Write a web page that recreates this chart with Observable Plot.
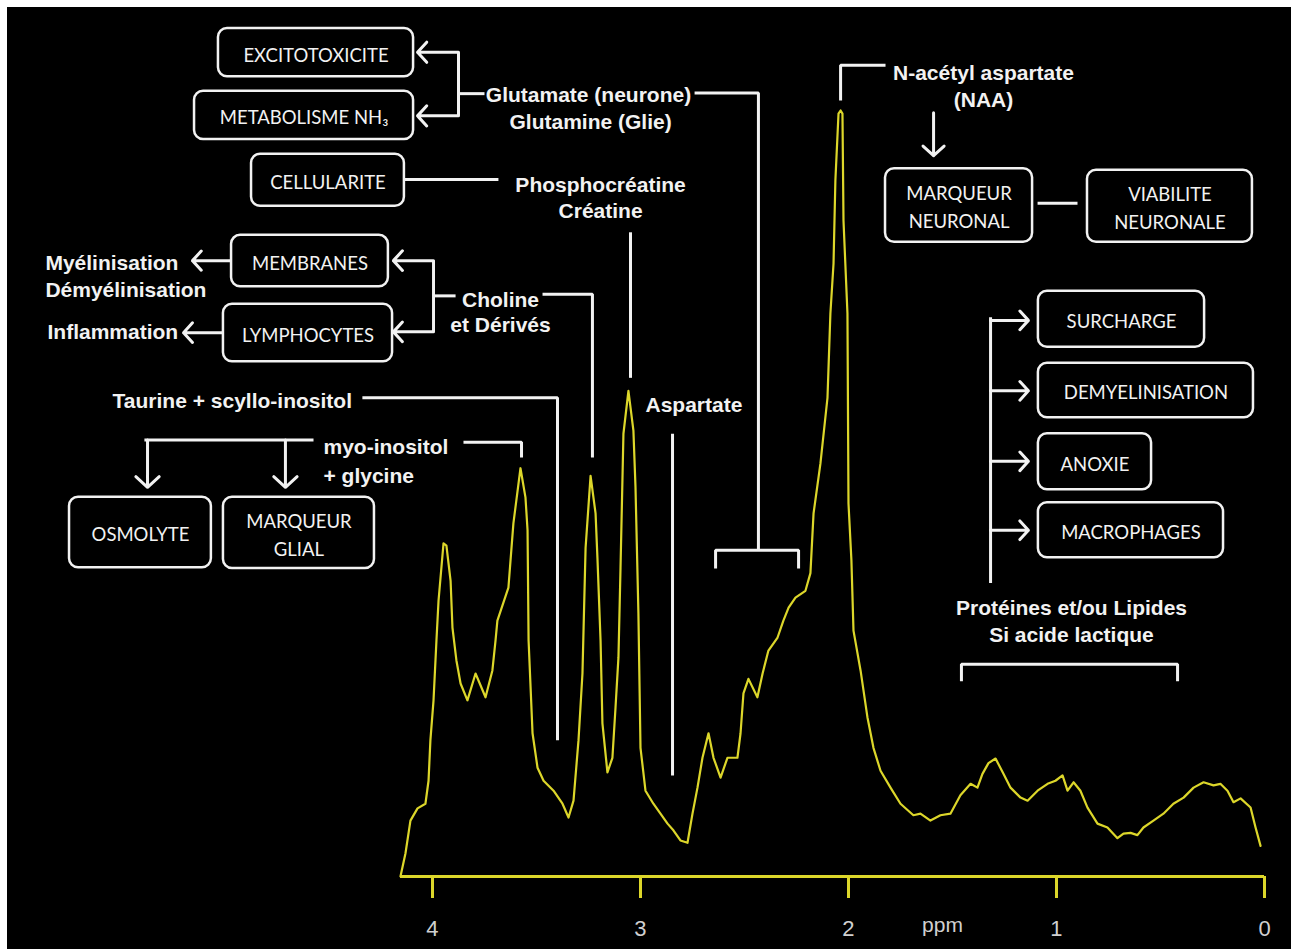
<!DOCTYPE html>
<html><head><meta charset="utf-8">
<script src="https://cdn.jsdelivr.net/npm/d3@7"></script>
<script src="https://cdn.jsdelivr.net/npm/@observablehq/plot@0.6"></script>
<style>
html,body{margin:0;padding:0;background:#fff;width:1291px;height:949px;overflow:hidden}
#chart{position:absolute;left:7px;top:7px;width:1284px;height:942px;background:#000}
#chart svg{display:block;background:#000;overflow:visible}
</style></head><body><div id="chart"></div>
<script>
// ---- spectrum (chemical shift in ppm, relative intensity, NAA = 100) ----
const ppm = [4.154,4.130,4.106,4.072,4.034,4.019,4.010,3.995,3.981,3.971,3.947,3.933,3.913,3.904,3.885,3.865,3.832,3.793,3.745,3.712,3.697,3.688,3.635,3.611,3.577,3.553,3.543,3.538,3.519,3.495,3.466,3.418,3.375,3.346,3.322,3.298,3.279,3.264,3.240,3.216,3.207,3.192,3.183,3.159,3.135,3.120,3.106,3.096,3.082,3.058,3.034,3.024,3.010,3.000,2.976,2.938,2.904,2.870,2.841,2.808,2.774,2.750,2.726,2.702,2.673,2.649,2.615,2.582,2.534,2.519,2.505,2.481,2.438,2.413,2.385,2.341,2.313,2.288,2.255,2.207,2.183,2.168,2.135,2.101,2.087,2.072,2.063,2.048,2.038,2.029,2.024,2.005,2.000,1.986,1.976,1.942,1.909,1.880,1.846,1.798,1.750,1.688,1.654,1.606,1.558,1.510,1.462,1.413,1.380,1.356,1.327,1.293,1.255,1.221,1.173,1.139,1.091,1.043,1.005,0.971,0.947,0.918,0.885,0.851,0.803,0.755,0.707,0.678,0.644,0.611,0.582,0.534,0.486,0.438,0.389,0.341,0.293,0.245,0.212,0.178,0.149,0.115,0.067,0.043,0.019];
const intensity = [0,3.0,7.3,8.9,9.5,12.5,17.8,23.0,30.8,36.0,43.5,43.2,38.6,32.5,28.2,25.2,23.0,26.5,23.4,26.9,30.8,33.4,37.7,46.1,53.3,49.5,45.2,30.8,18.7,14.2,12.5,11.2,9.5,7.7,9.9,17.8,26.5,42.9,52.3,47.4,41.6,30.8,20.0,13.6,15.5,22.1,28.6,40.3,57.8,63.4,58.2,50.8,34.3,16.8,11.2,9.5,8.2,6.9,6.0,4.7,4.4,8.2,11.6,15.5,18.7,15.5,12.9,15.5,15.5,18.7,23.9,25.8,23.4,26.5,29.5,31.2,33.4,35.1,36.4,37.3,39.6,47.4,53.9,62.5,73.5,80.0,90.9,99.6,100,99.6,85.6,73.5,48.7,41.3,32.1,26.9,20.8,16.8,13.8,11.6,9.5,8.0,8.2,7.3,8.0,8.2,10.6,12.1,11.6,13.4,14.8,15.4,13.4,11.6,10.3,9.9,11.2,12.1,12.5,13.2,11.2,12.3,11.2,9.0,6.9,6.4,5.0,5.6,5.7,5.4,6.4,7.3,8.2,9.5,10.3,11.6,12.3,11.9,12.1,11.2,9.7,10.2,9.0,6.4,4.0];
const tickValues = [4, 3, 2, 1, 0];
const axisLabel = "ppm";

// ---- annotation layout, anchored in data units (ppm, intensity) ----
const boxLabels = ["EXCITOTOXICITE","METABOLISME NH\u2083","CELLULARITE","MEMBRANES","LYMPHOCYTES","OSMOLYTE","MARQUEUR\nGLIAL","MARQUEUR\nNEURONAL","VIABILITE\nNEURONALE","SURCHARGE","DEMYELINISATION","ANOXIE","MACROPHAGES"];
const boxPpmLeft  = [5.029,5.144,4.870,4.966,5.005,5.745,5.005,1.822,0.851,1.087,1.087,1.087,1.087];
const boxPpmRight = [4.091,4.091,4.135,4.212,4.192,5.063,4.279,1.115,0.058,0.288,0.053,0.543,0.197];
const boxLow      = [104.4,96.2,87.5,77.0,67.2,40.3,40.2,82.8,82.8,69.1,59.9,50.5,41.6];
const boxHigh     = [110.7,102.5,94.3,83.7,74.7,49.5,49.5,92.4,92.2,76.4,67.0,57.8,48.8];

const connectors = [
  [[3.875,107.6],[3.875,99.3]],
  [[3.875,102.2],[3.750,102.2]],
  [[2.740,102.3],[2.433,102.3],[2.433,42.6]],
  [[2.639,40.2],[2.639,42.6],[2.240,42.6],[2.240,40.2]],
  [[4.135,91.0],[3.683,91.0]],
  [[3.048,84.1],[3.048,65.1]],
  [[3.995,80.4],[3.995,71.1]],
  [[3.995,75.8],[3.889,75.8]],
  [[3.471,76.0],[3.231,76.0],[3.231,54.7]],
  [[4.337,62.5],[3.399,62.5],[3.399,17.8]],
  [[2.846,57.8],[2.846,13.2]],
  [[3.851,56.7],[3.572,56.7],[3.572,54.7]],
  [[5.385,57.0],[4.572,57.0]],
  [[1.822,105.9],[2.038,105.9],[2.038,101.3]],
  [[1.091,87.9],[0.899,87.9]],
  [[1.317,73.0],[1.317,38.3]],
  [[1.457,25.5],[1.457,27.7],[0.418,27.7],[0.418,25.5]]
];
const arrows = [
  [3.875,107.6,4.072,107.6],
  [3.875,99.3,4.072,99.3],
  [3.995,80.4,4.188,80.4],
  [3.995,71.1,4.188,71.1],
  [4.966,80.4,5.154,80.4],
  [5.005,71.0,5.197,71.0],
  [5.370,57.0,5.370,50.8],
  [4.707,57.0,4.707,50.8],
  [1.591,99.7,1.591,94.1],
  [1.317,72.6,1.135,72.6],
  [1.317,63.4,1.135,63.4],
  [1.317,54.2,1.135,54.2],
  [1.317,45.2,1.135,45.2]
];
const labelTexts = ["Glutamate (neurone)","Glutamine (Glie)","Phosphocréatine","Créatine","Choline","et Dérivés","Myélinisation","Démyélinisation","Inflammation","Taurine + scyllo-inositol","myo-inositol","+ glycine","Aspartate","N-acétyl aspartate","(NAA)","Protéines et/ou Lipides","Si acide lactique"];
const labelPpm = [3.250,3.240,3.192,3.192,3.673,3.673,5.861,5.861,5.851,5.538,4.524,4.524,2.976,1.351,1.351,0.928,0.928];
const labelIntensity = [102.0,98.4,90.3,86.9,75.2,71.9,80.0,76.5,71.0,62.1,56.0,52.3,61.5,104.8,101.3,35.0,31.5];
const labelAnchor = ["middle","middle","middle","middle","middle","middle","start","start","start","start","start","start","start","middle","middle","middle","middle"];

// ---- build tables ----
const spectrum = ppm.map((p, i) => ({ppm: p, v: intensity[i]}));
const boxes = boxLabels.map((label, i) => ({label, x1: boxPpmLeft[i], x2: boxPpmRight[i], y1: boxLow[i], y2: boxHigh[i]}));
const connectorRows = connectors.flatMap((pts, id) => pts.map(([x, y]) => ({id, x, y})));
const labels = labelTexts.map((text, i) => ({text, x: labelPpm[i], y: labelIntensity[i], anchor: labelAnchor[i]}));

const YELLOW = "#dcd62a", WHITE = "#f2f2f2";
const BOLD = "'Liberation Sans', Arial, sans-serif";
const BOXFONT = "Lato, 'Open Sans', sans-serif";
const labelStyle = {x: "x", y: "y", text: "text", fill: WHITE, fontSize: 21, fontWeight: "bold", fontFamily: BOLD};

const chart = Plot.plot({
  width: 1284, height: 942,
  marginLeft: 393, marginRight: 27, marginTop: 103, marginBottom: 73,
  x: {domain: [4.1538, 0], axis: null},
  y: {domain: [0, 100], axis: null},
  style: {background: "#000", fontFamily: BOLD, overflow: "visible"},
  marks: [
    Plot.ruleY([0], {stroke: YELLOW, strokeWidth: 3}),
    Plot.axisX(tickValues, {anchor: "bottom", tickSize: 22, tickPadding: 22, stroke: YELLOW, strokeWidth: 3, fill: "#d0d0d0", fontSize: 22, fontFamily: BOLD, tickFormat: d => String(d)}),
    Plot.text([axisLabel], {x: 1.548, y: -6.4, text: d => d, fill: "#d0d0d0", fontSize: 21, fontFamily: BOLD}),
    Plot.line(spectrum, {x: "ppm", y: "v", stroke: YELLOW, strokeWidth: 2.2, strokeLinejoin: "round"}),
    Plot.line(connectorRows, {x: "x", y: "y", z: "id", stroke: WHITE, strokeWidth: 3, strokeLinejoin: "miter", strokeLinecap: "butt"}),
    Plot.arrow(arrows, {x1: d => d[0], y1: d => d[1], x2: d => d[2], y2: d => d[3], stroke: WHITE, strokeWidth: 3, headLength: 14, headAngle: 95}),
    Plot.rect(boxes, {x1: "x1", x2: "x2", y1: "y1", y2: "y2", rx: 9, fill: "#000", stroke: WHITE, strokeWidth: 2.5}),
    Plot.text(boxes, {x: d => (d.x1 + d.x2) / 2, y: d => (d.y1 + d.y2) / 2, text: "label", fill: WHITE, fontSize: 18.5, lineHeight: 1.5, fontFamily: BOXFONT}),
    Plot.text(labels.filter(d => d.anchor === "middle"), {...labelStyle, textAnchor: "middle"}),
    Plot.text(labels.filter(d => d.anchor === "start"), {...labelStyle, textAnchor: "start"})
  ]
});
document.getElementById("chart").appendChild(chart);
</script></body></html>
